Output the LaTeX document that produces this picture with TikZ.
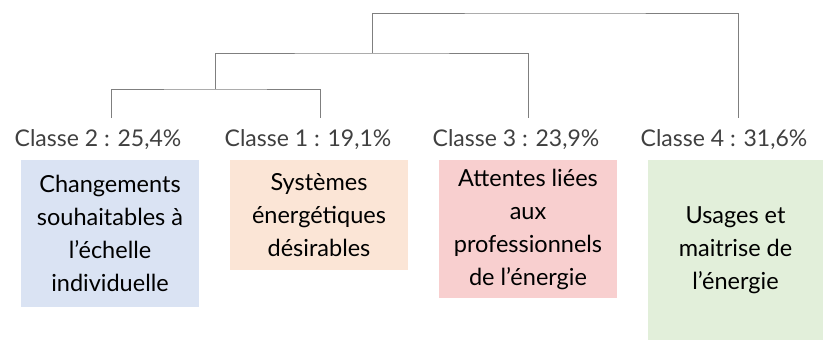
\documentclass[tikz,border=0pt]{standalone}
\usepackage{fontspec}
\setmainfont{Lato}
\definecolor{cblue}{HTML}{DAE3F3}
\definecolor{corange}{HTML}{FBE5D6}
\definecolor{cpink}{HTML}{F8CFCF}
\definecolor{cgreen}{HTML}{E2EFDA}
\definecolor{cline}{HTML}{7F7F7F}
\definecolor{clabel}{HTML}{404040}
\begin{document}
\begin{tikzpicture}[x=1pt,y=-1pt,
  classlabel/.style={text=clabel,font=\fontsize{23}{26}\selectfont,inner sep=0pt},
  classbox/.style={inner sep=0pt,align=center,text=black,font=\fontsize{23.5}{33}\selectfont},
  tree/.style={draw=cline,line width=1pt}]
\useasboundingbox (0,0) rectangle (823,340);
\node[classlabel] (l2) at (98,140) {Classe 2 : 25,4\%};
\node[classlabel] (l1) at (308,140) {Classe 1 : 19,1\%};
\node[classlabel] (l3) at (516,140) {Classe 3 : 23,9\%};
\node[classlabel] (l4) at (724,140) {Classe 4 : 31,6\%};
\node[classbox,fill=cblue,minimum width=178pt,minimum height=147pt] (b2) at (110,233.5) {Changements\\souhaitables à\\l’échelle\\individuelle};
\node[classbox,fill=corange,minimum width=178pt,minimum height=110pt] (b1) at (319,215) {Systèmes\\énergétiques\\désirables};
\node[classbox,fill=cpink,minimum width=178pt,minimum height=138pt] (b3) at (528,229) {Attentes liées\\aux\\professionnels\\de l’énergie};
\node[classbox,fill=cgreen,minimum width=175pt,minimum height=180pt] (b4) at (735.5,250) {Usages et\\maitrise de\\l’énergie};
\coordinate (c2) at (111,118);
\coordinate (c1) at (320,118);
\coordinate (c3) at (528,118);
\coordinate (c4) at (738,118);
\coordinate (j12) at (215,89);
\coordinate (j123) at (372,53);
\coordinate (top) at (555,13);
\draw[tree] (c2) |- (j12) -| (c1);
\draw[tree] (j12) |- (j123) -| (c3);
\draw[tree] (j123) |- (top) -| (c4);
\end{tikzpicture}
\end{document}
